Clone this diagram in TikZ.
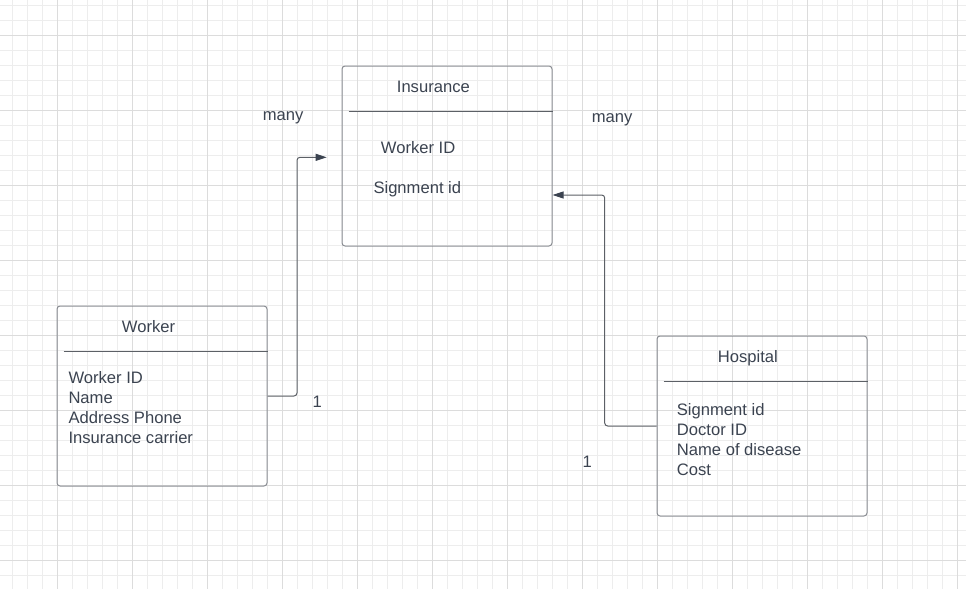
\documentclass[tikz,border=0pt]{standalone}
\usepackage{fontspec}
\setmainfont{Liberation Sans}
\usetikzlibrary{arrows.meta,positioning}

\definecolor{inkgray}{HTML}{3B4350}
\definecolor{boxgray}{HTML}{8A8D93}
\definecolor{linegray}{HTML}{5C6066}
\definecolor{gridminor}{HTML}{EDEDED}
\definecolor{gridmajor}{HTML}{DCDCDC}

\begin{document}
\begin{tikzpicture}[
            x = 1pt, y = -1pt, % pixel coordinates, y grows downwards
            > = {Triangle[length=11pt,width=7pt,color=inkgray]}, % arrow head style
            font = \fontsize{16.6}{20}\selectfont,
            text = inkgray
        ]

        \tikzstyle{entity}=[
            draw = boxgray,
            line width = 1pt,
            rounded corners = 3pt,
            minimum width = 210pt,
            minimum height = 180pt,
            inner sep = 0pt
        ]
        \tikzstyle{field}=[anchor = base west, inner sep = 0pt]
        \tikzstyle{divider}=[draw = linegray, line width = 1pt]
        \tikzstyle{link}=[draw = linegray, line width = 1pt, rounded corners = 3pt, ->]

        \useasboundingbox (0,0) rectangle (966,589);

        % background grid
        \foreach \gx in {0,...,63}
            \draw[gridminor, line width = 1pt] (12.3+15*\gx,0) -- (12.3+15*\gx,589);
        \foreach \gy in {0,...,38}
            \draw[gridminor, line width = 1pt] (0,5+15*\gy) -- (966,5+15*\gy);
        \foreach \gx in {0,...,12}
            \draw[gridmajor, line width = 1pt] (57.3+75*\gx,0) -- (57.3+75*\gx,589);
        \foreach \gy in {0,...,7}
            \draw[gridmajor, line width = 1pt] (0,35+75*\gy) -- (966,35+75*\gy);

        % entities
        \node[entity] (insurance) at (447,156) {};
        \node[entity] (worker) at (162,396) {};
        \node[entity] (hospital) at (762,426) {};

        \draw[divider] ([xshift=7pt,yshift=-45.5pt]insurance.north west) -- ([yshift=-45.5pt]insurance.north east);
        \draw[divider] ([xshift=7pt,yshift=-45.5pt]worker.north west) -- ([yshift=-45.5pt]worker.north east);
        \draw[divider] ([xshift=7pt,yshift=-45.5pt]hospital.north west) -- ([yshift=-45.5pt]hospital.north east);

        \node[field] (insTitle) at (396.7,92.7) {Insurance};
        \node[field] (workerTitle) at (121.7,332.3) {Worker};
        \node[field] (hospTitle) at (717.7,362.7) {Hospital};

        \node[field] (insF1) at (380.7,153.3) {Worker ID};
        \node[field] (insF2) at (373.3,193.3) {Signment id};
        \foreach \txt [count=\i] in {Worker ID, Name, Address Phone, Insurance carrier}
            \node[field] (workerF\i) at (68.3,363.3+20*\i) {\txt};
        \foreach \txt [count=\i] in {Signment id, Doctor ID, Name of disease, Cost}
            \node[field] (hospF\i) at (676.7,395.3+20*\i) {\txt};

        % cardinalities
        \node[field] (manyLeft) at (262.7,120) {many};
        \node[field] (manyRight) at (591.7,122) {many};
        \node[field] (oneLeft) at (312.3,407.7) {1};
        \node[field] (oneRight) at (582.3,467.3) {1};

        % relationships
        \coordinate (workerBend) at (297,300);
        \coordinate (workerIn) at (326.7,157.3);
        \coordinate (hospBend) at (604.7,300);
        \draw[link] (worker.east) -| (workerBend) |- (workerIn);
        \draw[link] (hospital.west) -| (hospBend) |- ([yshift=-39pt]insurance.east);

    \end{tikzpicture}
\end{document}
